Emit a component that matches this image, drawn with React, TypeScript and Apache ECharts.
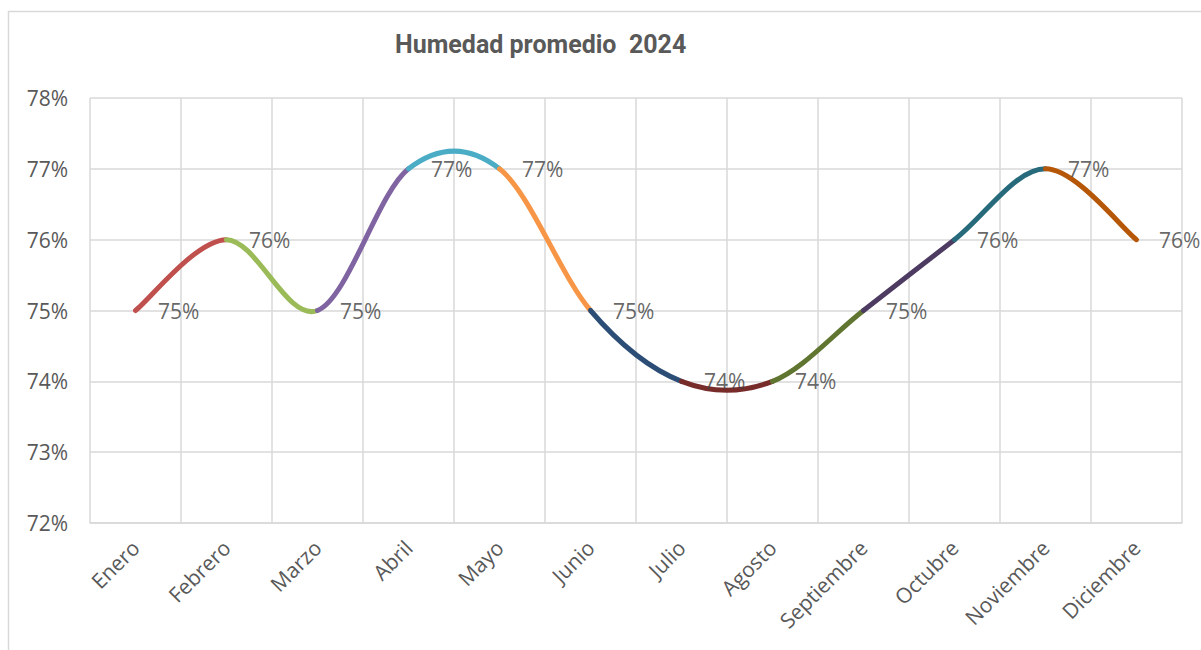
import React, { useEffect, useRef } from "react";
import * as echarts from "echarts";

const titleText = "Humedad promedio  2024";
const months = [
  "Enero", "Febrero", "Marzo", "Abril", "Mayo", "Junio",
  "Julio", "Agosto", "Septiembre", "Octubre", "Noviembre", "Diciembre",
];
const humidity = [75, 76, 75, 77, 77, 75, 74, 74, 75, 76, 77, 76];
const segmentColors = [
  "#C0504D", "#9BBB59", "#8064A2", "#4BACC6", "#F79646", "#2C4D75",
  "#772C2A", "#5F7530", "#4D3B62", "#276A7C", "#B65708",
];
const yMin = 72;
const yMax = 78;
const yStep = 1;

export default function App() {
  const ref = useRef<HTMLDivElement>(null);

  useEffect(() => {
    if (!ref.current) return;
    const chart = echarts.init(ref.current, undefined, { renderer: "svg" });
    const n = humidity.length;

    const option: any = {
      animation: false,
      backgroundColor: "#ffffff",
      title: {
        text: titleText,
        left: 390,
        top: 27,
        textStyle: {
          fontFamily: "Roboto, 'Liberation Sans', sans-serif",
          fontWeight: "bold",
          fontSize: 25,
          color: "#595959",
        },
      },
      graphic: [
        {
          type: "rect",
          shape: { x: 8.5, y: 11.5, width: 1300, height: 700 },
          style: { fill: "none", stroke: "#d9d9d9", lineWidth: 1.5 },
          silent: true,
        },
      ],
      grid: { left: 90, right: 19, top: 98, bottom: 127, containLabel: false },
      xAxis: {
        type: "category",
        data: months,
        boundaryGap: true,
        axisLine: { show: true, lineStyle: { color: "#d9d9d9", width: 1.5 } },
        axisTick: { show: false },
        splitLine: { show: true, lineStyle: { color: "#d9d9d9", width: 1.5 } },
        axisLabel: {
          rotate: 45,
          margin: 21,
          interval: 0,
          fontFamily: "'Open Sans', sans-serif",
          fontSize: 21,
          color: "#595959",
        },
      },
      yAxis: {
        type: "value",
        min: yMin,
        max: yMax,
        interval: yStep,
        axisLine: { show: false },
        axisTick: { show: false },
        splitLine: { show: true, lineStyle: { color: "#d9d9d9", width: 1.5 } },
        axisLabel: {
          formatter: "{value}%",
          margin: 22,
          fontFamily: "'Open Sans', sans-serif",
          fontSize: 21,
          color: "#595959",
        },
      },
      series: [
        {
          type: "custom",
          data: humidity.map((v, i) => [i, v]),
          encode: { x: 0, y: 1 },
          z: 3,
          renderItem: (params: any, api: any) => {
            const i = params.dataIndex;
            if (i >= n - 1) return null;
            const pt = (k: number) => {
              const kk = Math.max(0, Math.min(n - 1, k));
              return api.coord([kk, humidity[kk]]);
            };
            const p0 = pt(i - 1);
            const p1 = pt(i);
            const p2 = pt(i + 1);
            const p3 = pt(i + 2);
            return {
              type: "bezierCurve",
              shape: {
                x1: p1[0],
                y1: p1[1],
                x2: p2[0],
                y2: p2[1],
                cpx1: p1[0] + (p2[0] - p0[0]) / 6,
                cpy1: p1[1] + (p2[1] - p0[1]) / 6,
                cpx2: p2[0] - (p3[0] - p1[0]) / 6,
                cpy2: p2[1] - (p3[1] - p1[1]) / 6,
              },
              style: {
                stroke: segmentColors[i],
                lineWidth: 5,
                fill: "none",
                lineCap: "round",
              },
            };
          },
        },
        {
          type: "scatter",
          data: humidity,
          symbolSize: 1,
          z: 5,
          itemStyle: { color: "rgba(0,0,0,0)" },
          label: {
            show: true,
            position: "right",
            distance: 22,
            formatter: (p: any) => p.value + "%",
            fontFamily: "'Open Sans', sans-serif",
            fontSize: 21,
            color: "#404040",
          },
        },
      ],
    };

    chart.setOption(option);
    return () => chart.dispose();
  }, []);

  return (
    <div
      ref={ref}
      style={{ position: "fixed", left: 0, top: 0, width: 1201, height: 650 }}
    />
  );
}
